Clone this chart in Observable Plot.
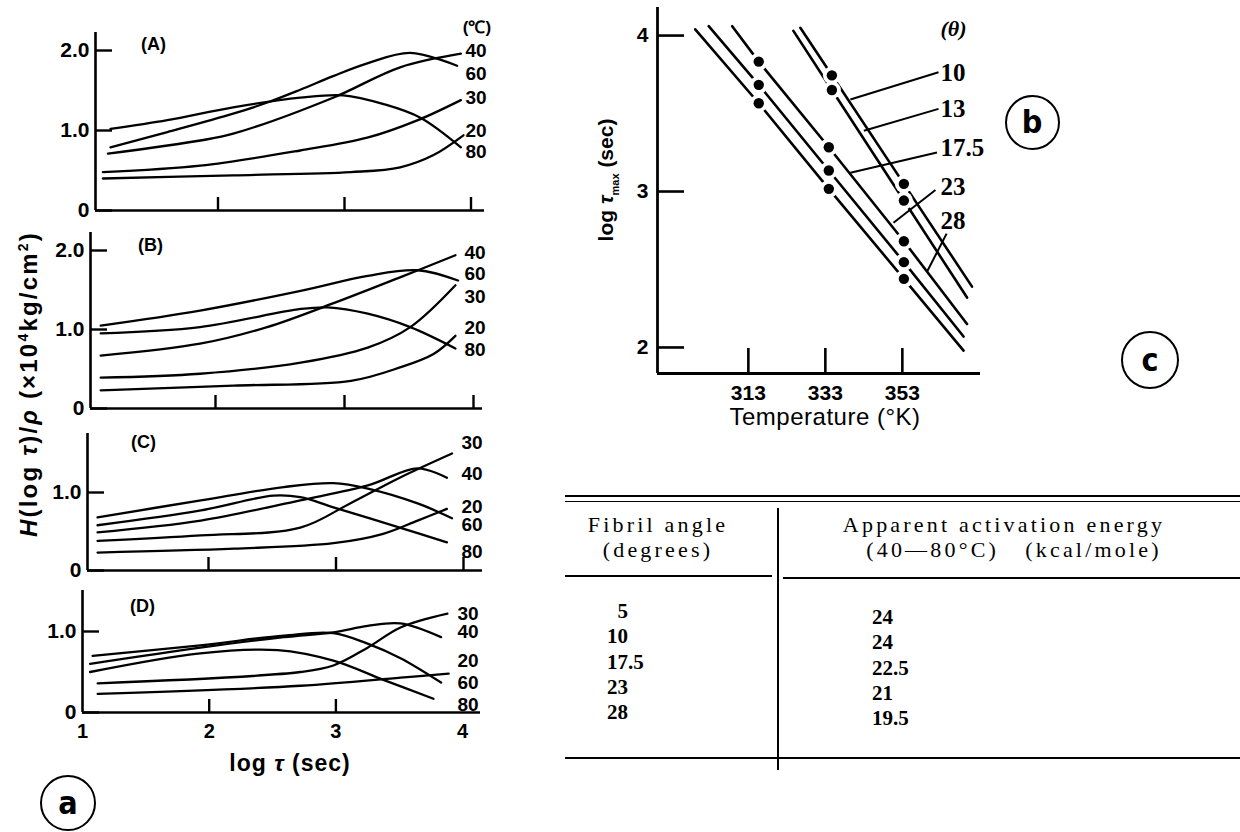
<!DOCTYPE html>
<html><head><meta charset="utf-8">
<script src="https://cdn.jsdelivr.net/npm/d3@7"></script>
<script src="https://cdn.jsdelivr.net/npm/@observablehq/plot@0.6"></script>
<style>
html,body{margin:0;padding:0;background:#fff;}
#root{position:relative;width:1240px;height:832px;overflow:hidden;background:#fff;font-family:"Liberation Sans",Arial,sans-serif;color:#000;}
#root svg{background:transparent !important;overflow:visible;}
.abs{position:absolute;white-space:nowrap;line-height:1;}
.ctr{transform:translate(-50%,-50%);}
.circ{position:absolute;border:2.6px solid #000;border-radius:50%;box-sizing:border-box;display:flex;align-items:center;justify-content:center;font-weight:bold;font-family:"DejaVu Sans Condensed","DejaVu Sans",sans-serif;line-height:1;}
.hl{position:absolute;background:#000;}
.tab{font-family:"Liberation Serif","Times New Roman",serif;}
</style></head><body><div id="root"></div>
<script>
// ---------------- DATA ----------------
// Panel (a): relaxation spectra H(log tau)/rho vs log tau, curves per temperature (°C)
const temperaturesC = [20, 30, 40, 60, 80];
const panelA = [
  {t: 20, pts: [[1.09,0.40],[2.12,0.44],[3.05,0.48],[3.44,0.54],[3.70,0.69],[3.94,0.94]]},
  {t: 30, pts: [[1.09,0.48],[1.86,0.56],[2.65,0.75],[3.18,0.91],[3.58,1.13],[3.92,1.38]]},
  {t: 40, pts: [[1.13,0.71],[1.86,0.875],[2.12,0.96],[2.91,1.41],[3.44,1.79],[3.92,1.96]]},
  {t: 60, pts: [[1.15,0.79],[1.60,0.98],[2.12,1.21],[2.39,1.35],[2.65,1.51],[2.91,1.68],[3.18,1.84],[3.52,1.97],[3.89,1.81]]},
  {t: 80, pts: [[1.15,1.02],[1.60,1.13],[2.12,1.29],[2.65,1.41],[2.99,1.44],[3.31,1.33],[3.60,1.16],[3.92,0.79]]}
];
const panelB = [
  {t: 20, pts: [[1.11,0.23],[2.14,0.29],[3.05,0.35],[3.43,0.52],[3.69,0.69],[3.86,0.92]]},
  {t: 30, pts: [[1.11,0.39],[1.88,0.44],[2.66,0.58],[3.18,0.77],[3.51,1.03],[3.86,1.56]]},
  {t: 40, pts: [[1.11,0.67],[1.88,0.82],[2.40,1.03],[2.91,1.33],[3.43,1.66],[3.86,1.94]]},
  {t: 60, pts: [[1.11,1.05],[1.88,1.24],[2.66,1.49],[3.18,1.68],[3.57,1.75],[3.88,1.62]]},
  {t: 80, pts: [[1.11,0.95],[1.88,1.03],[2.66,1.26],[2.87,1.28],[3.18,1.20],[3.51,1.03],[3.86,0.76]]}
];
const panelC = [
  {t: 20, pts: [[1.13,0.23],[2.20,0.28],[2.98,0.35],[3.37,0.47],[3.64,0.64],[3.87,0.79]]},
  {t: 30, pts: [[1.13,0.38],[1.94,0.45],[2.72,0.55],[3.11,0.86],[3.50,1.19],[3.91,1.50]]},
  {t: 40, pts: [[1.13,0.49],[1.94,0.64],[2.72,0.90],[3.25,1.09],[3.64,1.31],[3.87,1.19]]},
  {t: 60, pts: [[1.13,0.68],[1.94,0.90],[2.59,1.07],[2.98,1.12],[3.25,1.05],[3.64,0.86],[3.91,0.67]]},
  {t: 80, pts: [[1.13,0.58],[1.94,0.77],[2.51,0.96],[2.72,0.94],[2.98,0.81],[3.50,0.55],[3.87,0.36]]}
];
const panelD = [
  {t: 20, pts: [[1.12,0.23],[2.72,0.33],[3.51,0.43],[3.89,0.48]]},
  {t: 30, pts: [[1.12,0.36],[2.72,0.50],[2.98,0.58],[3.25,0.80],[3.51,1.05],[3.88,1.22]]},
  {t: 40, pts: [[1.06,0.60],[1.93,0.80],[2.59,0.93],[2.98,0.99],[3.25,1.07],[3.51,1.10],[3.83,0.93]]},
  {t: 60, pts: [[1.08,0.70],[1.93,0.83],[2.59,0.95],[2.98,0.98],[3.25,0.85],[3.51,0.67],[3.83,0.37]]},
  {t: 80, pts: [[1.06,0.50],[1.93,0.73],[2.54,0.77],[2.98,0.64],[3.38,0.40],[3.77,0.17]]}
];
// right-hand temperature labels (value level on H axis where each label sits)
const labelsA = [{t:40,h:2.00},{t:60,h:1.71},{t:30,h:1.41},{t:20,h:1.00},{t:80,h:0.73}];
const labelsB = [{t:40,h:1.97},{t:60,h:1.71},{t:30,h:1.41},{t:20,h:1.02},{t:80,h:0.74}];
const labelsC = [{t:30,h:1.63},{t:40,h:1.24},{t:20,h:0.82},{t:60,h:0.58},{t:80,h:0.24}];
const labelsD = [{t:30,h:1.22},{t:40,h:0.99},{t:20,h:0.64},{t:60,h:0.36},{t:80,h:0.09}];
const logTauTicks = [1, 2, 3, 4];

// Panel (b): log tau_max vs temperature (K), per fibril angle
const fibrilAnglesB = ["10", "13", "17.5", "23", "28"];
const lineStart = [[326.5,4.05],[324.7,4.03],[308.8,4.06],[302.7,4.06],[299.2,4.04]];
const lineEnd   = [[371.1,2.39],[369.8,2.32],[369.8,2.15],[368.9,2.07],[368.9,1.98]];
const measured  = [
  [[334.7,3.745],[353.4,3.049]],
  [[334.7,3.651],[353.4,2.942]],
  [[315.7,3.833],[333.9,3.284],[353.4,2.681]],
  [[315.7,3.684],[333.9,3.135],[353.4,2.547]],
  [[315.7,3.566],[333.9,3.017],[353.4,2.440]]
];
const labelPosB   = [[362.9,3.76],[362.9,3.53],[362.9,3.28],[362.9,3.03],[362.9,2.81]];
const leaderFrom  = [[362.4,3.765],[362.4,3.53],[362.0,3.25],[361.6,3.01],[364.5,2.73]];
const leaderTo    = [[339.5,3.59],[343.0,3.39],[339.5,3.12],[350.7,2.80],[359.5,2.49]];
const tempTicks = [313, 333, 353];
const logTicks = [2, 3, 4];

// Panel (c): table
const fibrilAngles = [5, 10, 17.5, 23, 28];
const activationEnergy = [24, 24, 22.5, 21, 19.5];

// ---------------- LAYOUT ----------------
const root = document.getElementById("root");
function addDiv(html, css, cls) {
  const d = document.createElement("div");
  d.className = cls || "abs";
  d.innerHTML = html;
  Object.assign(d.style, css);
  root.appendChild(d);
  return d;
}
function place(el, left, top) {
  el.style.position = "absolute"; el.style.left = left + "px"; el.style.top = top + "px";
  root.appendChild(el);
}

const layouts = [
  {series: panelA, labels: labelsA, name: "(A)", top: 0,   height: 225, left: 95, right: 484, x1: 91,   ppu: 126.5, y0: 210, ppy: 80, axisTop: 32,  yTicks: [0,1,2], xTicks: [2,3,4], labelX: 465, nameX: 153, nameY: 44, xLabels: false},
  {series: panelB, labels: labelsB, name: "(B)", top: 225, height: 195, left: 90, right: 482, x1: 86,   ppu: 129,   y0: 408, ppy: 79, axisTop: 232, yTicks: [0,1,2], xTicks: [2,3,4], labelX: 464, nameX: 150, nameY: 245, xLabels: false},
  {series: panelC, labels: labelsC, name: "(C)", top: 420, height: 165, left: 87, right: 482, x1: 80.5, ppu: 127.5, y0: 570, ppy: 78, axisTop: 433, yTicks: [0,1],   xTicks: [2,3,4], labelX: 461, nameX: 143, nameY: 442, xLabels: false},
  {series: panelD, labels: labelsD, name: "(D)", top: 585, height: 160, left: 82, right: 480, x1: 82,   ppu: 126.7, y0: 712, ppy: 81, axisTop: 590, yTicks: [0,1],   xTicks: [2,3],   labelX: 457, nameX: 142, nameY: 606, xLabels: true}
];

const sansBold = {fontFamily: '"Liberation Sans", Arial, sans-serif', fontWeight: "bold"};

layouts.forEach(L => {
  const width = 490;
  const toX = px => 1 + (px - L.x1) / L.ppu;
  const toY = py => (L.y0 - py) / L.ppy;
  const xDomain = [toX(L.left), toX(L.right)];
  const yDomain = [0, toY(L.axisTop)];
  const flat = L.series.flatMap(s => s.pts.map(([x, h]) => ({t: s.t, x, h})));
  const marks = [
    Plot.ruleY([0], {stroke: "#000", strokeWidth: 2.6}),
    Plot.ruleX([xDomain[0]], {stroke: "#000", strokeWidth: 2.6}),
    Plot.axisY({ticks: L.yTicks, label: null, tickSize: -17, tickPadding: 23, strokeWidth: 2.4,
      tickFormat: d => d === 0 ? "0" : d.toFixed(1), fontSize: 21, ...sansBold}),
    Plot.axisX({ticks: L.xTicks, label: null, tickSize: -13, strokeWidth: 2.4, tickFormat: () => ""}),
    Plot.line(flat, {x: "x", y: "h", z: "t", curve: "catmull-rom", stroke: "#000", strokeWidth: 2.3}),
    Plot.text(L.labels, {x: () => toX(L.labelX), y: "h", text: d => String(d.t), textAnchor: "start", fontSize: 19, ...sansBold}),
    Plot.text([L.name], {x: () => toX(L.nameX), y: () => toY(L.nameY), text: d => d, fontSize: 18, ...sansBold})
  ];
  if (L.xLabels) {
    marks.push(Plot.axisX({ticks: logTauTicks, label: null, tickSize: 0, tickPadding: 11, tickFormat: d3.format("d"), fontSize: 20, ...sansBold}));
  }
  const svg = Plot.plot({
    width, height: L.height,
    marginLeft: L.left, marginRight: width - L.right,
    marginTop: L.axisTop - L.top, marginBottom: L.top + L.height - L.y0,
    x: {domain: xDomain, label: null}, y: {domain: yDomain, label: null},
    style: {background: "transparent", overflow: "visible", fontFamily: '"Liberation Sans", Arial, sans-serif'},
    marks
  });
  place(svg, 0, L.top);
});

// Panel (a) titles
addDiv('<i>H</i>(log <i>τ</i>)/<i>ρ</i> (×10<sup style="font-size:14px">4</sup>kg/cm<sup style="font-size:14px">2</sup>)',
  {left: "28px", top: "384px", transform: "translate(-50%,-50%) rotate(-90deg)", fontSize: "24px", fontWeight: "bold", letterSpacing: "2.2px"});
addDiv('log <i>τ</i> (sec)', {left: "290px", top: "763px", fontSize: "23px", fontWeight: "bold", letterSpacing: "1px"}, "abs ctr");
addDiv('(℃)', {left: "477px", top: "27px", fontSize: "17px", fontWeight: "bold"}, "abs ctr");

// ---------------- Panel (b) ----------------
{
  const B = {left: 580, top: 0, width: 420, height: 430, mLeft: 77, mRight: 20, mTop: 7, mBottom: 57};
  const tempDomain = [289.4, 373.3], logDomain = [1.833, 4.18];
  const lines = fibrilAnglesB.flatMap((a, i) =>
    [lineStart[i], ...measured[i], lineEnd[i]].map(([k, v]) => ({a, k, v})));
  const dots = fibrilAnglesB.flatMap((a, i) => measured[i].map(([k, v]) => ({a, k, v})));
  const leaders = fibrilAnglesB.map((a, i) => ({a, x1: leaderFrom[i][0], y1: leaderFrom[i][1], x2: leaderTo[i][0], y2: leaderTo[i][1]}));
  const labels = fibrilAnglesB.map((a, i) => ({a, k: labelPosB[i][0], v: labelPosB[i][1]}));
  const svg = Plot.plot({
    width: B.width, height: B.height,
    marginLeft: B.mLeft, marginRight: B.mRight, marginTop: B.mTop, marginBottom: B.mBottom,
    x: {domain: tempDomain, label: null}, y: {domain: logDomain, label: null},
    style: {background: "transparent", overflow: "visible", fontFamily: '"Liberation Sans", Arial, sans-serif'},
    marks: [
      Plot.ruleY([logDomain[0]], {stroke: "#000", strokeWidth: 2.8}),
      Plot.ruleX([tempDomain[0]], {stroke: "#000", strokeWidth: 2.8}),
      Plot.axisY({ticks: logTicks, label: null, tickSize: -27, tickPadding: 36, strokeWidth: 2.6, tickFormat: d3.format("d"), fontSize: 21, ...sansBold}),
      Plot.axisX({ticks: tempTicks, label: null, tickSize: -25, tickPadding: 37, strokeWidth: 2.6, tickFormat: d3.format("d"), fontSize: 21, ...sansBold}),
      Plot.line(lines, {x: "k", y: "v", z: "a", stroke: "#000", strokeWidth: 2.6}),
      Plot.dot(dots, {x: "k", y: "v", r: 9, fill: "#fff", stroke: null}),
      Plot.dot(dots, {x: "k", y: "v", r: 5.2, fill: "#000", stroke: null}),
      Plot.link(leaders, {x1: "x1", y1: "y1", x2: "x2", y2: "y2", stroke: "#000", strokeWidth: 2}),
      Plot.text(labels, {x: "k", y: "v", text: "a", textAnchor: "start", fontSize: 25, fontWeight: "bold", fontFamily: '"Liberation Serif", "Times New Roman", serif'}),
      Plot.text(["(θ)"], {x: () => labelPosB[0][0], y: () => 4.045, text: d => d, textAnchor: "start", fontSize: 22, fontWeight: "bold", fontStyle: "italic", fontFamily: '"Liberation Serif", "Times New Roman", serif'})
    ]
  });
  place(svg, B.left, B.top);
  addDiv('log <span style="font-style:italic">τ</span><sub style="font-size:11px">max</sub> (sec)',
    {left: "608px", top: "180px", transform: "translate(-50%,-50%) rotate(-90deg)", fontSize: "21px", fontWeight: "bold"});
  addDiv('Temperature (°K)', {left: "825px", top: "417px", fontSize: "24px", letterSpacing: "0.5px"}, "abs ctr");
}

// ---------------- Panel (c) table ----------------
{
  const rule = (x1, x2, y, h) => addDiv("", {left: x1 + "px", top: y + "px", width: (x2 - x1) + "px", height: h + "px"}, "hl");
  rule(565, 1240, 495, 2);
  rule(565, 1240, 500.5, 1.6);
  rule(565, 772, 575, 2);
  rule(783, 1240, 577, 2);
  rule(565, 1240, 757, 2);
  addDiv("", {left: "777px", top: "508px", width: "2px", height: "262px"}, "hl");
  const hs = {fontSize: "22px", letterSpacing: "3.2px", lineHeight: "25px", textAlign: "center"};
  addDiv("Fibril angle<br>(degrees)", {left: "658px", top: "537px", ...hs}, "abs ctr tab");
  addDiv('Apparent activation energy<br><span style="padding-left:20px">(40—80°C)&nbsp;&nbsp;&nbsp;(kcal/mole)</span>', {left: "1004px", top: "537px", ...hs}, "abs ctr tab");
  const rowTop = [612, 637, 663, 688, 713];
  const fmt = v => (v < 10 ? "\u2007" : "") + String(v);
  fibrilAngles.forEach((v, i) => {
    addDiv(fmt(v), {left: "607px", top: (rowTop[i] - 11) + "px", fontSize: "21px", fontWeight: "bold"}, "abs tab");
    addDiv(String(activationEnergy[i]), {left: "872px", top: (rowTop[i] - 5) + "px", fontSize: "21px", fontWeight: "bold"}, "abs tab");
  });
}

// ---------------- circled panel letters ----------------
[["a", 68, 803, 56], ["b", 1032, 122, 55], ["c", 1150, 360, 58]].forEach(([t, cx, cy, d]) => {
  addDiv(t, {left: (cx - d / 2) + "px", top: (cy - d / 2) + "px", width: d + "px", height: d + "px", fontSize: "32px"}, "circ");
});
</script></body></html>
